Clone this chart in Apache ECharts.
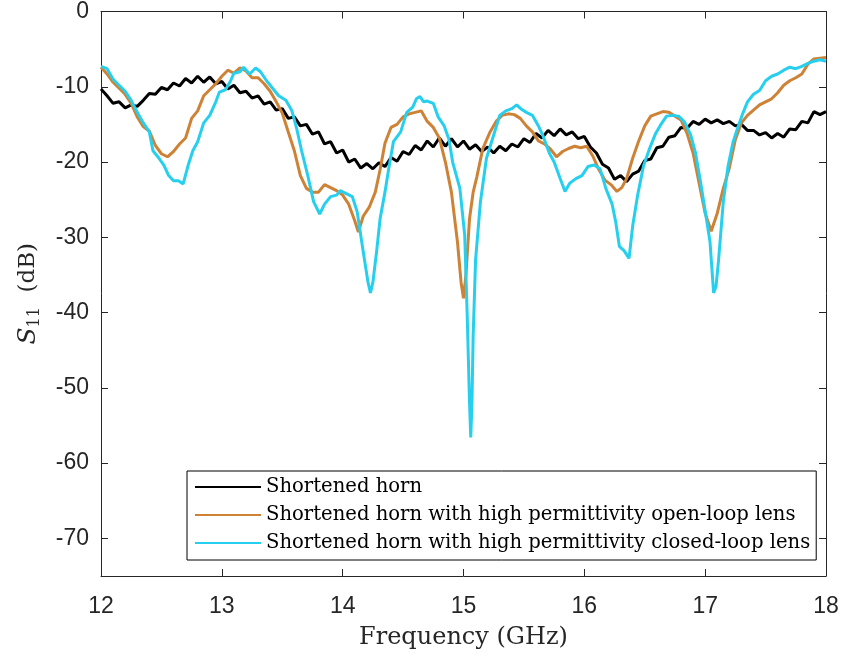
<!DOCTYPE html>
<html>
<head>
<meta charset="utf-8">
<script src="https://cdn.jsdelivr.net/npm/echarts@6/dist/echarts.min.js"></script>
<style>html,body{margin:0;padding:0;background:#fff}#c{width:844px;height:658px}</style>
</head>
<body>
<div id="c"></div>
<script>
// ---- data ----
const seriesNames = [
  'Shortened horn',
  'Shortened horn with high permittivity open-loop lens',
  'Shortened horn with high permittivity closed-loop lens'
];
const xTicks = [12, 13, 14, 15, 16, 17, 18];
const yTicks = [0, -10, -20, -30, -40, -50, -60, -70];

const hornFreq = [12.00,12.05,12.10,12.15,12.20,12.25,12.30,12.35,12.40,12.45,12.50,12.55,12.60,12.65,12.70,12.75,12.80,12.85,12.90,12.95,
13.00,13.05,13.10,13.15,13.20,13.25,13.30,13.35,13.40,13.45,13.50,13.55,13.60,13.65,13.70,13.75,13.80,13.85,13.90,13.95,
14.00,14.05,14.10,14.15,14.20,14.25,14.30,14.35,14.40,14.45,14.50,14.55,14.60,14.65,14.70,14.75,14.80,14.85,14.90,14.95,
15.00,15.05,15.10,15.15,15.20,15.25,15.30,15.35,15.40,15.45,15.50,15.55,15.60,15.65,15.70,15.75,15.80,15.85,15.90,15.95,
16.00,16.05,16.10,16.15,16.20,16.25,16.30,16.35,16.40,16.45,16.50,16.55,16.60,16.65,16.70,16.75,16.80,16.85,16.90,16.95,
17.00,17.05,17.10,17.15,17.20,17.25,17.30,17.35,17.40,17.45,17.50,17.55,17.60,17.65,17.70,17.75,17.80,17.85,17.90,17.95,18.00];
const hornS11 = [-10.3,-11.2,-12.2,-12.0,-12.8,-12.4,-12.6,-11.8,-10.9,-11.0,-10.1,-10.4,-9.5,-9.9,-8.9,-9.5,-8.6,-9.4,-8.7,-9.6,
-9.3,-10.3,-9.8,-10.8,-10.6,-11.5,-11.2,-12.3,-12.0,-13.1,-12.9,-14.2,-14.0,-15.2,-15.0,-16.3,-16.0,-17.6,-17.3,-18.8,
-18.4,-20.0,-19.6,-20.8,-20.2,-20.9,-20.1,-20.6,-19.4,-19.9,-18.6,-19.0,-17.8,-18.4,-17.2,-18.0,-16.8,-17.9,-16.9,-18.0,
-17.2,-18.3,-17.7,-18.6,-18.0,-18.8,-17.9,-18.5,-17.6,-18.0,-16.9,-17.4,-16.2,-16.8,-15.8,-16.5,-15.6,-16.4,-16.0,-16.9,
-16.6,-18.0,-18.8,-20.3,-20.8,-22.3,-21.8,-22.6,-21.6,-21.2,-19.8,-19.6,-18.1,-17.9,-16.7,-16.5,-15.4,-15.5,-14.6,-15.0,
-14.3,-14.8,-14.4,-14.9,-14.6,-15.2,-15.0,-15.8,-15.8,-16.4,-16.1,-16.8,-16.2,-16.7,-15.6,-15.7,-14.6,-14.8,-13.3,-13.7,-13.3];

const openFreq = [12.00,12.05,12.10,12.15,12.20,12.25,12.30,12.35,12.40,12.45,12.50,12.55,12.60,12.65,12.70,12.75,12.80,12.85,12.90,12.95,
13.00,13.05,13.10,13.15,13.20,13.25,13.30,13.35,13.40,13.45,13.50,13.55,13.60,13.65,13.70,13.75,13.80,13.85,13.90,13.95,
14.00,14.05,14.10,14.13,14.17,14.22,14.27,14.31,14.35,14.40,14.45,14.50,14.55,14.60,14.65,14.70,14.75,14.80,14.85,14.90,
14.95,14.98,15.00,15.02,15.05,15.08,15.11,15.16,15.22,15.27,15.32,15.37,15.42,15.47,15.52,15.57,15.62,15.67,15.72,15.77,
15.82,15.87,15.92,15.97,16.02,16.07,16.12,16.17,16.22,16.27,16.31,16.35,16.40,16.45,16.50,16.55,16.60,16.65,16.70,16.75,
16.80,16.85,16.90,16.95,17.00,17.05,17.10,17.15,17.20,17.25,17.30,17.35,17.40,17.45,17.50,17.55,17.60,17.65,17.70,17.75,
17.80,17.85,17.90,17.95,18.00];
const openS11 = [-7.4,-8.3,-9.4,-10.2,-11.0,-12.2,-14.0,-15.3,-15.9,-17.8,-18.9,-19.3,-18.6,-17.6,-16.8,-14.2,-13.2,-11.2,-10.4,-9.6,
-8.6,-7.8,-8.2,-7.5,-7.9,-8.8,-8.8,-9.6,-10.6,-12.0,-13.5,-16.0,-18.5,-21.8,-23.5,-24.0,-24.0,-23.0,-23.4,-23.8,
-24.4,-25.6,-27.8,-29.3,-27.2,-26.0,-24.0,-21.0,-17.5,-15.4,-15.0,-14.0,-13.6,-13.4,-13.2,-14.6,-15.4,-16.8,-20.0,-24.0,
-30.6,-36.0,-38.1,-35.0,-27.5,-24.0,-22.0,-18.2,-16.0,-14.6,-13.8,-13.6,-13.7,-14.2,-15.2,-16.0,-17.2,-17.6,-18.3,-19.3,
-18.6,-18.2,-17.9,-18.1,-17.9,-19.2,-21.0,-22.4,-23.0,-23.9,-23.4,-22.2,-19.5,-17.2,-15.2,-13.9,-13.6,-13.3,-13.4,-13.9,
-14.4,-16.2,-18.8,-22.8,-26.8,-29.2,-26.8,-23.5,-20.8,-17.0,-14.8,-13.8,-13.1,-12.4,-12.0,-11.6,-10.8,-9.8,-9.2,-8.8,
-8.3,-7.0,-6.3,-6.2,-6.1];

const closedFreq = [12.00,12.05,12.10,12.15,12.20,12.25,12.30,12.35,12.40,12.43,12.48,12.52,12.56,12.60,12.64,12.68,12.72,12.76,12.80,12.85,
12.90,12.95,12.98,13.03,13.07,13.10,13.15,13.18,13.23,13.28,13.32,13.37,13.42,13.47,13.53,13.58,13.62,13.66,13.71,13.76,
13.81,13.85,13.90,13.95,13.98,14.03,14.08,14.12,14.17,14.21,14.23,14.25,14.28,14.31,14.35,14.38,14.42,14.48,14.53,14.58,
14.61,14.64,14.67,14.70,14.75,14.79,14.84,14.88,14.91,14.97,15.01,15.03,15.05,15.06,15.07,15.08,15.10,15.14,15.19,15.25,
15.30,15.35,15.40,15.44,15.48,15.52,15.57,15.62,15.66,15.71,15.75,15.80,15.84,15.88,15.93,15.98,16.03,16.08,16.13,16.18,
16.23,16.26,16.29,16.33,16.37,16.40,16.44,16.49,16.54,16.59,16.63,16.68,16.73,16.78,16.83,16.88,16.92,16.96,17.00,17.04,
17.07,17.09,17.11,17.15,17.19,17.23,17.27,17.31,17.35,17.40,17.45,17.50,17.55,17.60,17.65,17.70,17.75,17.80,17.85,17.90,
17.95,18.00];
const closedS11 = [-7.3,-7.6,-9.0,-9.8,-10.6,-11.8,-13.4,-14.8,-16.0,-18.5,-19.5,-20.4,-21.8,-22.5,-22.5,-22.9,-20.5,-18.5,-17.3,-14.8,
-13.8,-12.0,-10.7,-10.4,-9.3,-8.2,-8.0,-7.4,-8.3,-7.5,-8.0,-9.2,-10.2,-11.2,-11.8,-13.2,-15.6,-18.5,-21.7,-25.3,
-26.9,-25.6,-24.6,-24.4,-23.8,-24.2,-24.6,-26.6,-31.9,-36.0,-37.4,-36.0,-32.0,-27.5,-24.0,-21.0,-17.3,-16.0,-13.4,-12.7,
-11.6,-11.3,-12.0,-11.9,-12.2,-14.0,-15.2,-17.0,-20.0,-23.5,-29.7,-40.0,-52.0,-56.6,-52.0,-43.0,-33.0,-25.3,-19.5,-16.4,
-13.8,-13.2,-12.9,-12.4,-13.0,-13.4,-13.8,-15.2,-16.6,-18.8,-20.0,-22.2,-23.9,-22.8,-22.2,-21.8,-20.6,-20.4,-20.9,-23.6,
-25.6,-28.0,-31.2,-31.8,-32.8,-28.5,-24.5,-20.5,-18.2,-16.2,-15.1,-13.9,-13.8,-13.9,-14.7,-16.4,-18.8,-22.5,-26.5,-30.6,
-37.4,-36.5,-33.2,-25.3,-20.5,-17.4,-15.4,-13.6,-12.0,-11.0,-10.5,-9.2,-8.6,-8.3,-7.8,-7.4,-7.6,-7.3,-6.9,-6.6,
-6.4,-6.6];

// ---- chart ----
const colors = ['#000000', '#CE8236', '#27CFEE'];
const pair = (xs, ys) => xs.map((x, i) => [x, ys[i]]);
const axisCol = '#262626';
const tickFont = {fontFamily: 'Liberation Sans, Arial, sans-serif', fontSize: 23, color: axisCol};
const serif = 'DejaVu Serif, serif';

const chart = echarts.init(document.getElementById('c'), null, {renderer: 'canvas'});
chart.setOption({
  animation: false,
  backgroundColor: '#fff',
  grid: {left: 101, right: 18, top: 9, bottom: 82, containLabel: false},
  xAxis: [{
    type: 'value', min: 12, max: 18, interval: 1, position: 'bottom',
    name: 'Frequency (GHz)', nameLocation: 'middle', nameGap: 50,
    nameTextStyle: {fontFamily: serif, fontSize: 24, color: axisCol},
    axisLine: {show: true, onZero: false, lineStyle: {color: axisCol, width: 1}},
    axisTick: {show: true, inside: true, length: 7, lineStyle: {color: axisCol}},
    axisLabel: Object.assign({margin: 19, customValues: xTicks}, tickFont),
    splitLine: {show: false}
  }, {
    type: 'value', min: 12, max: 18, interval: 1, position: 'top',
    axisLine: {show: true, onZero: false, lineStyle: {color: axisCol, width: 1}},
    axisTick: {show: true, inside: true, length: 7, lineStyle: {color: axisCol}},
    axisLabel: {show: false}, splitLine: {show: false}
  }],
  yAxis: [{
    type: 'value', min: -75, max: 0, position: 'left',
    name: '{s|S}{b|11}{n|  (dB)}', nameLocation: 'middle', nameGap: 57, nameRotate: 90,
    nameTextStyle: {
      color: axisCol,
      rich: {
        s: {fontFamily: serif, fontStyle: 'italic', fontSize: 25, color: axisCol, lineHeight: 32},
        b: {fontFamily: serif, fontSize: 16, color: axisCol, lineHeight: 32, padding: [13, 0, 0, 0]},
        n: {fontFamily: serif, fontSize: 23, color: axisCol, lineHeight: 32}
      }
    },
    axisLine: {show: true, onZero: false, lineStyle: {color: axisCol, width: 1}},
    axisTick: {show: true, inside: true, length: 7, customValues: yTicks, lineStyle: {color: axisCol}},
    axisLabel: Object.assign({margin: 12, customValues: yTicks}, tickFont),
    splitLine: {show: false}
  }, {
    type: 'value', min: -75, max: 0, position: 'right',
    axisLine: {show: true, onZero: false, lineStyle: {color: axisCol, width: 1}},
    axisTick: {show: true, inside: true, length: 7, customValues: yTicks, lineStyle: {color: axisCol}},
    axisLabel: {show: false}, splitLine: {show: false}
  }],
  legend: {
    orient: 'vertical', left: 187, top: 471,
    backgroundColor: '#fff', borderColor: '#000', borderWidth: 1, borderRadius: 0,
    padding: [5, 6, 6, 8],
    icon: 'rect', itemWidth: 66, itemHeight: 2, itemGap: 6,
    textStyle: {fontFamily: serif, fontSize: 19.6, color: '#000', lineHeight: 22},
    data: seriesNames
  },
  series: [
    {name: seriesNames[0], data: pair(hornFreq, hornS11)},
    {name: seriesNames[1], data: pair(openFreq, openS11)},
    {name: seriesNames[2], data: pair(closedFreq, closedS11)}
  ].map((s, i) => Object.assign({
    type: 'line', xAxisIndex: 0, yAxisIndex: 0, showSymbol: false, symbol: 'none',
    color: colors[i], lineStyle: {color: colors[i], width: 3}, z: 2 + i
  }, s))
});
</script>
</body>
</html>
